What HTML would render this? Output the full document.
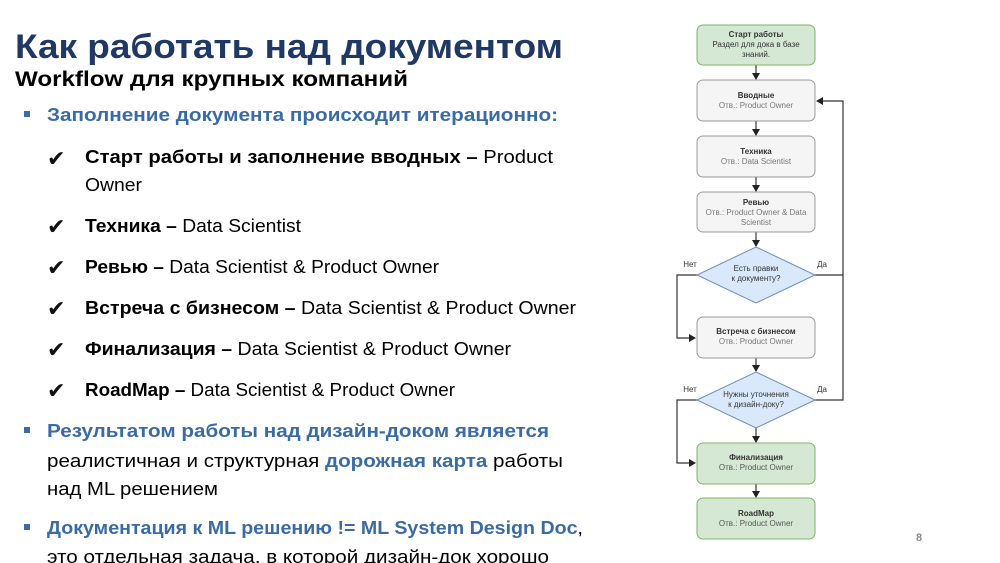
<!DOCTYPE html>
<html><head><meta charset="utf-8"><style>
html,body{margin:0;padding:0;background:#fff;width:1000px;height:563px;overflow:hidden}
svg{display:block}
</style></head><body>
<svg width="1000" height="563" viewBox="0 0 1000 563" xmlns="http://www.w3.org/2000/svg" font-family="Liberation Sans, sans-serif">
<defs><marker id="a" markerWidth="8" markerHeight="8" refX="6" refY="4" orient="auto" markerUnits="userSpaceOnUse"><path d="M0,0 L7,4 L0,8 z" fill="#222"/></marker></defs>
<text x="15" y="58" font-size="34" font-weight="bold" fill="#203864" textLength="548" lengthAdjust="spacingAndGlyphs">Как работать над документом</text>
<text x="15" y="86" font-size="21" font-weight="bold" fill="#000" textLength="393" lengthAdjust="spacingAndGlyphs">Workflow для крупных компаний</text>
<g font-size="18">
<rect x="24" y="111" width="6" height="6" fill="#3a6ba5"/>
<text x="47" y="121" font-weight="bold" fill="#3a6ba5" textLength="511" lengthAdjust="spacingAndGlyphs">Заполнение документа происходит итерационно:</text>
<g font-size="22" fill="#111"><text x="47" y="166">✔</text><text x="47" y="234">✔</text><text x="47" y="275">✔</text><text x="47" y="316">✔</text><text x="47" y="357">✔</text><text x="47" y="398">✔</text></g>
<text x="85" y="163" textLength="468" lengthAdjust="spacingAndGlyphs"><tspan font-weight="bold">Старт работы и заполнение вводных –</tspan> Product</text>
<text x="85" y="191" textLength="57" lengthAdjust="spacingAndGlyphs">Owner</text>
<text x="85" y="232" textLength="216" lengthAdjust="spacingAndGlyphs"><tspan font-weight="bold">Техника –</tspan> Data Scientist</text>
<text x="85" y="273" textLength="354" lengthAdjust="spacingAndGlyphs"><tspan font-weight="bold">Ревью –</tspan> Data Scientist &amp; Product Owner</text>
<text x="85" y="314" textLength="491" lengthAdjust="spacingAndGlyphs"><tspan font-weight="bold">Встреча с бизнесом –</tspan> Data Scientist &amp; Product Owner</text>
<text x="85" y="355" textLength="426" lengthAdjust="spacingAndGlyphs"><tspan font-weight="bold">Финализация –</tspan> Data Scientist &amp; Product Owner</text>
<text x="85" y="396" textLength="370" lengthAdjust="spacingAndGlyphs"><tspan font-weight="bold">RoadMap –</tspan> Data Scientist &amp; Product Owner</text>
<rect x="24" y="427" width="6" height="6" fill="#3a6ba5"/>
<text x="47" y="437" font-weight="bold" fill="#3a6ba5" textLength="502" lengthAdjust="spacingAndGlyphs">Результатом работы над дизайн-доком является</text>
<text x="47" y="467" textLength="516" lengthAdjust="spacingAndGlyphs">реалистичная и структурная <tspan font-weight="bold" fill="#3a6ba5">дорожная карта</tspan> работы</text>
<text x="47" y="495" textLength="171" lengthAdjust="spacingAndGlyphs">над ML решением</text>
<rect x="24" y="524" width="6" height="6" fill="#3a6ba5"/>
<text x="47" y="534" font-weight="bold" fill="#3a6ba5" textLength="536" lengthAdjust="spacingAndGlyphs">Документация к ML решению != ML System Design Doc<tspan fill="#000" font-weight="normal">,</tspan></text>
<text x="47" y="563" textLength="502" lengthAdjust="spacingAndGlyphs">это отдельная задача, в которой дизайн-док хорошо</text>
</g>
<text x="916" y="541" font-size="11" font-weight="bold" fill="#888">8</text>

<g stroke="#333" stroke-width="1.2" fill="none">
<line x1="756" y1="65" x2="756" y2="79" marker-end="url(#a)"/>
<line x1="756" y1="121" x2="756" y2="135" marker-end="url(#a)"/>
<line x1="756" y1="177" x2="756" y2="191" marker-end="url(#a)"/>
<line x1="756" y1="232" x2="756" y2="246" marker-end="url(#a)"/>
<line x1="756" y1="358" x2="756" y2="371" marker-end="url(#a)"/>
<line x1="756" y1="428" x2="756" y2="442" marker-end="url(#a)"/>
<line x1="756" y1="484" x2="756" y2="497" marker-end="url(#a)"/>
<polyline points="697,275 677,275 677,338 695,338" marker-end="url(#a)"/>
<polyline points="697,400 677,400 677,463 695,463" marker-end="url(#a)"/>
<polyline points="815,275 843,275 843,101 817,101" marker-end="url(#a)"/>
<polyline points="815,400 843,400 843,275"/>
</g>
<g stroke-width="1">
<rect x="697" y="25" width="118" height="40" rx="6" fill="#d5e8d4" stroke="#82b366"/>
<rect x="697" y="80" width="118" height="41" rx="6" fill="#f5f5f5" stroke="#999"/>
<rect x="697" y="136" width="118" height="41" rx="6" fill="#f5f5f5" stroke="#999"/>
<rect x="697" y="192" width="118" height="40" rx="6" fill="#f5f5f5" stroke="#999"/>
<polygon points="756,247 815,275 756,303 697,275" fill="#dae8fc" stroke="#6c8ebf"/>
<rect x="697" y="317" width="118" height="41" rx="6" fill="#f5f5f5" stroke="#999"/>
<polygon points="756,372 815,400 756,428 697,400" fill="#dae8fc" stroke="#6c8ebf"/>
<rect x="697" y="443" width="118" height="41" rx="6" fill="#d5e8d4" stroke="#82b366"/>
<rect x="697" y="498" width="118" height="41" rx="6" fill="#d5e8d4" stroke="#82b366"/>
</g>
<g font-size="8" text-anchor="middle" fill="#333">
<text x="756" y="37" font-weight="bold">Старт работы</text>
<text x="756" y="47">Раздел для дока в базе</text>
<text x="756" y="57">знаний.</text>
<text x="756" y="98" font-weight="bold">Вводные</text>
<text x="756" y="108" fill="#777">Отв.: Product Owner</text>
<text x="756" y="154" font-weight="bold">Техника</text>
<text x="756" y="164" fill="#777">Отв.: Data Scientist</text>
<text x="756" y="205" font-weight="bold">Ревью</text>
<text x="756" y="215" fill="#777">Отв.: Product Owner &amp; Data</text>
<text x="756" y="225" fill="#777">Scientist</text>
<text x="756" y="271">Есть правки</text>
<text x="756" y="281">к документу?</text>
<text x="756" y="334" font-weight="bold">Встреча с бизнесом</text>
<text x="756" y="344" fill="#777">Отв.: Product Owner</text>
<text x="756" y="397">Нужны уточнения</text>
<text x="756" y="407">к дизайн-доку?</text>
<text x="756" y="460" font-weight="bold">Финализация</text>
<text x="756" y="470" fill="#555">Отв.: Product Owner</text>
<text x="756" y="516" font-weight="bold">RoadMap</text>
<text x="756" y="526" fill="#555">Отв.: Product Owner</text>
<text x="690" y="267">Нет</text>
<text x="822" y="267">Да</text>
<text x="690" y="392">Нет</text>
<text x="822" y="392">Да</text>
</g>
</svg>
</body></html>
